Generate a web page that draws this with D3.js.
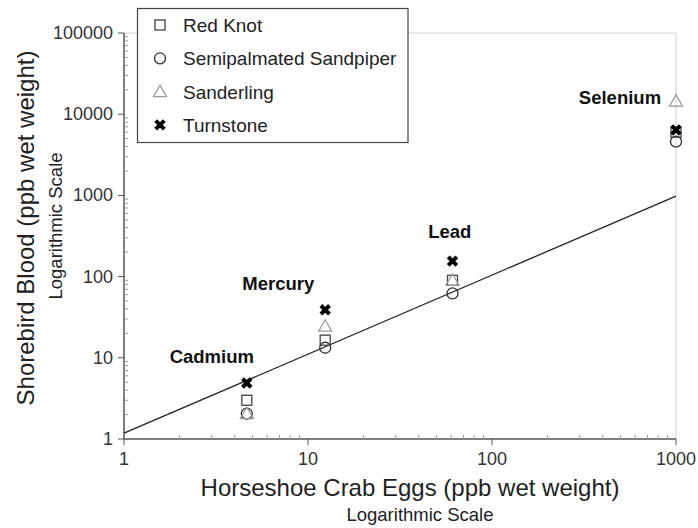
<!DOCTYPE html>
<meta charset="utf-8" />
<html>
<head>
    <style>
        body { margin: 0; background: #fff; }
        text { font-family: Arial, "Liberation Sans", sans-serif; fill: #222; }
        .tick-label { font-size: 18px; fill: #333; }
        .metal { font-size: 18.5px; font-weight: bold; fill: #111; }
    </style>
</head>
<body>
    <svg width="698" height="528"></svg>
    <script src="https://d3js.org/d3.v7.min.js"></script>
    <script>
        // data
        var metals = ["Cadmium", "Mercury", "Lead", "Selenium"];
        var crabEggs = [4.65, 12.4, 61, 1000];
        var redKnot = [3.0, 16.5, 90, 6000];
        var semipalmated = [2.05, 13.3, 62, 4600];
        var sanderling = [2.05, 24.5, 90, 14500];
        var turnstone = [4.9, 39, 155, 6400];
        // label anchors in data units (x, y)
        var labelX = [3.0, 6.9, 59, 496];
        var labelY = [8.7, 69, 303, 13300];
        // fitted line end points
        var fitX = [1, 1000];
        var fitY = [1.18, 980];
        var xTicks = [1, 10, 100, 1000];
        var yTicks = [1, 10, 100, 1000, 10000, 100000];

        var svg = d3.select("svg");
        var x = d3.scaleLog().domain([1, 1000]).range([124, 676]);
        var y = d3.scaleLog().domain([1, 100000]).range([439, 33]);

        var minorX = [], minorY = [];
        for (var p = 1; p < 1000; p *= 10)
            for (var k = 2; k <= 9; k++) minorX.push(p * k);
        for (var q = 1; q < 100000; q *= 10)
            for (var m = 2; m <= 9; m++) minorY.push(q * m);

        // light frame on top and right
        svg.append("path")
            .attr("d", "M" + x(1) + "," + y(100000) + "H" + x(1000) + "V" + y(1))
            .attr("fill", "none").attr("stroke", "#d0d0d0");

        // axes
        var axisColor = "#555";
        var gx = svg.append("g");
        gx.append("line").attr("x1", x(1)).attr("x2", x(1000))
            .attr("y1", y(1)).attr("y2", y(1)).attr("stroke", axisColor).attr("stroke-width", 1.5);
        gx.selectAll(".maj").data(xTicks).enter().append("line")
            .attr("x1", d => x(d)).attr("x2", d => x(d))
            .attr("y1", y(1)).attr("y2", y(1) + 6).attr("stroke", axisColor);
        gx.selectAll(".min").data(minorX).enter().append("line")
            .attr("x1", d => x(d)).attr("x2", d => x(d))
            .attr("y1", y(1)).attr("y2", y(1) - 4).attr("stroke", "#999");
        gx.selectAll("text").data(xTicks).enter().append("text")
            .attr("class", "tick-label")
            .attr("x", d => x(d)).attr("y", y(1) + 26)
            .attr("text-anchor", "middle").text(d => d);

        var gy = svg.append("g");
        gy.append("line").attr("x1", x(1)).attr("x2", x(1))
            .attr("y1", y(1)).attr("y2", y(100000)).attr("stroke", axisColor).attr("stroke-width", 1.5);
        gy.selectAll(".maj").data(yTicks).enter().append("line")
            .attr("x1", x(1) - 6).attr("x2", x(1))
            .attr("y1", d => y(d)).attr("y2", d => y(d)).attr("stroke", axisColor);
        gy.selectAll(".min").data(minorY).enter().append("line")
            .attr("x1", x(1)).attr("x2", x(1) + 4)
            .attr("y1", d => y(d)).attr("y2", d => y(d)).attr("stroke", "#999");
        gy.selectAll("text").data(yTicks).enter().append("text")
            .attr("class", "tick-label")
            .attr("x", x(1) - 11).attr("y", d => y(d) + 6)
            .attr("text-anchor", "end").text(d => d);

        // axis titles
        svg.append("text").attr("x", 410).attr("y", 496)
            .attr("text-anchor", "middle").style("font-size", "24px")
            .text("Horseshoe Crab Eggs (ppb wet weight)");
        svg.append("text").attr("x", 420).attr("y", 521)
            .attr("text-anchor", "middle").style("font-size", "18.5px")
            .text("Logarithmic Scale");
        svg.append("text").attr("transform", "translate(34,228) rotate(-90)")
            .attr("text-anchor", "middle").style("font-size", "24px")
            .text("Shorebird Blood (ppb wet weight)");
        svg.append("text").attr("transform", "translate(62,226) rotate(-90)")
            .attr("text-anchor", "middle").style("font-size", "18.5px")
            .text("Logarithmic Scale");

        // fitted line
        svg.append("line")
            .attr("x1", x(fitX[0])).attr("y1", y(fitY[0]))
            .attr("x2", x(fitX[1])).attr("y2", y(fitY[1]))
            .attr("stroke", "#222").attr("stroke-width", 1.3);

        // marker makers
        function square(g, cx, cy) {
            g.append("rect").attr("x", cx - 5).attr("y", cy - 5)
                .attr("width", 10).attr("height", 10)
                .attr("fill", "none").attr("stroke", "#444").attr("stroke-width", 1.3);
        }
        function circle(g, cx, cy) {
            g.append("circle").attr("cx", cx).attr("cy", cy).attr("r", 5.5)
                .attr("fill", "none").attr("stroke", "#333").attr("stroke-width", 1.3);
        }
        function triangle(g, cx, cy) {
            g.append("path")
                .attr("d", "M" + cx + "," + (cy - 6.5) + "L" + (cx + 6.5) + "," + (cy + 5)
                    + "L" + (cx - 6.5) + "," + (cy + 5) + "Z")
                .attr("fill", "none").attr("stroke", "#999").attr("stroke-width", 1.2);
        }
        function cross(g, cx, cy) {
            g.append("path")
                .attr("d", "M" + (cx - 4.3) + "," + (cy - 4.3) + "L" + (cx + 4.3) + "," + (cy + 4.3)
                    + "M" + (cx + 4.3) + "," + (cy - 4.3) + "L" + (cx - 4.3) + "," + (cy + 4.3))
                .attr("stroke", "#000").attr("stroke-width", 4);
        }

        var series = [
            { name: "Red Knot", values: redKnot, draw: square },
            { name: "Semipalmated Sandpiper", values: semipalmated, draw: circle },
            { name: "Sanderling", values: sanderling, draw: triangle },
            { name: "Turnstone", values: turnstone, draw: cross }
        ];

        var marks = svg.append("g");
        series.forEach(function (s) {
            s.values.forEach(function (v, i) {
                s.draw(marks, x(crabEggs[i]), y(v));
            });
        });

        // metal labels
        svg.selectAll(".metal").data(metals).enter().append("text")
            .attr("class", "metal")
            .attr("x", (d, i) => x(labelX[i])).attr("y", (d, i) => y(labelY[i]))
            .attr("text-anchor", "middle").text(d => d);

        // legend
        var lg = svg.append("g");
        lg.append("rect").attr("x", 137.5).attr("y", 8.5).attr("width", 270.5).attr("height", 134)
            .attr("fill", "#fff").attr("stroke", "#444").attr("stroke-width", 1.2);
        series.forEach(function (s, i) {
            var ly = 25 + i * 33.3;
            s.draw(lg, 160, ly);
            lg.append("text").attr("x", 183).attr("y", ly + 7)
                .style("font-size", "19px").text(s.name);
        });
    </script>
</body>
</html>
